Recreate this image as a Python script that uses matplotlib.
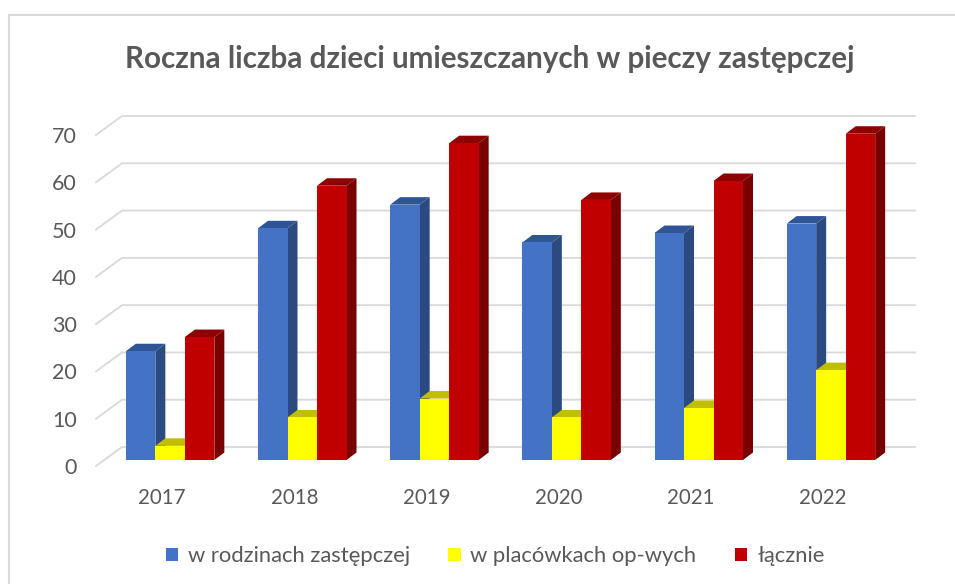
import matplotlib
matplotlib.use('Agg')
import numpy as np
import matplotlib.pyplot as plt
from matplotlib.lines import Line2D

plt.rcParams['font.family'] = ['Lato', 'DejaVu Sans']

# Data
years = ['2017', '2018', '2019', '2020', '2021', '2022']
rodziny = [23, 49, 54, 46, 48, 50]
placowki = [3, 9, 13, 9, 11, 19]
lacznie = [26, 58, 67, 55, 59, 69]
y_ticks = [0, 10, 20, 30, 40, 50, 60, 70]

title = 'Roczna liczba dzieci umieszczanych w pieczy zastępczej'
names = ['w rodzinach zastępczej', 'w placówkach op-wych', 'łącznie']

# (front, side, top) colours
colors = [('#4472C4', '#2C4A82', '#2F5597'),
          ('#FFFF00', '#A6A600', '#BFBF00'),
          ('#C00000', '#7A0000', '#8F0000')]

W, H = 955, 584
fig = plt.figure(figsize=(W / 100, H / 100), dpi=100)
# axes = front edge of the fake 3D floor
ax = fig.add_axes([96 / W, (H - 466) / H, 793 / W, 331 / H])
ax.set_xlim(-0.5, 5.5)
ax.set_ylim(0, 70)
for s in ax.spines.values():
    s.set_visible(False)

x = np.arange(len(years))
ax.set_xticks(x, years)
ax.set_yticks(y_ticks)
ax.tick_params(axis='both', length=0, labelcolor='#595959')
ax.tick_params(axis='y', pad=14, labelsize=15.5)
ax.tick_params(axis='x', pad=16, labelsize=14.8)

# depth offsets in data units
px_x = 793 / 6
px_y = 331 / 70
back_dx, back_dy = 26 / px_x, 19 / px_y
base_dx, base_dy = 8 / px_x, 6 / px_y
bar_dx, bar_dy = 10 / px_x, 7.5 / px_y
bar_w = 29.5 / px_x

# gridlines: diagonal on the left wall, then the back wall
for v in y_ticks:
    ax.plot([-0.5, -0.5 + back_dx, 5.5 + back_dx], [v, v + back_dy, v + back_dy],
            color='#D9D9D9', lw=1.3, clip_on=False, zorder=1, solid_joinstyle='miter')

# bars, drawn back-to-front from left
for i, (vals, name, col) in enumerate(zip([rodziny, placowki, lacznie], names, colors)):
    xc = x + base_dx + (i - 1) * bar_w
    z = 3 + i
    for xi, v in zip(xc, vals):
        r = xi + bar_w / 2
        l = xi - bar_w / 2
        top = v + base_dy
        ax.fill([r, r + bar_dx, r + bar_dx, r],
                [base_dy, base_dy + bar_dy, top + bar_dy, top],
                color=col[1], lw=0, clip_on=False, zorder=z)
        ax.fill([l, l + bar_dx, r + bar_dx, r],
                [top, top + bar_dy, top + bar_dy, top],
                color=col[2], lw=0, clip_on=False, zorder=z)
    ax.bar(xc, vals, bar_w, bottom=base_dy, color=col[0], label=name,
           clip_on=False, zorder=z + 0.5)

ax.legend(loc='center', bbox_to_anchor=(495 / W, (H - 556) / H), bbox_transform=fig.transFigure,
          ncol=3, frameon=False, fontsize=15.8, labelcolor='#595959',
          handlelength=0.56, handleheight=0.56, handletextpad=0.45, columnspacing=1.75,
          borderpad=0, borderaxespad=0)

fig.text(490 / W, (H - 59) / H, title, ha='center', va='center', fontsize=21.3,
         fontweight='bold', color='#595959')

# chart frame, cropped on the right and bottom in the screenshot
fig.add_artist(Line2D([9 / W, 9 / W, 1], [0, (H - 15) / H, (H - 15) / H],
                      color='#D9D9D9', lw=1.5, solid_joinstyle='miter'))

fig.savefig('out.png', dpi=100)
